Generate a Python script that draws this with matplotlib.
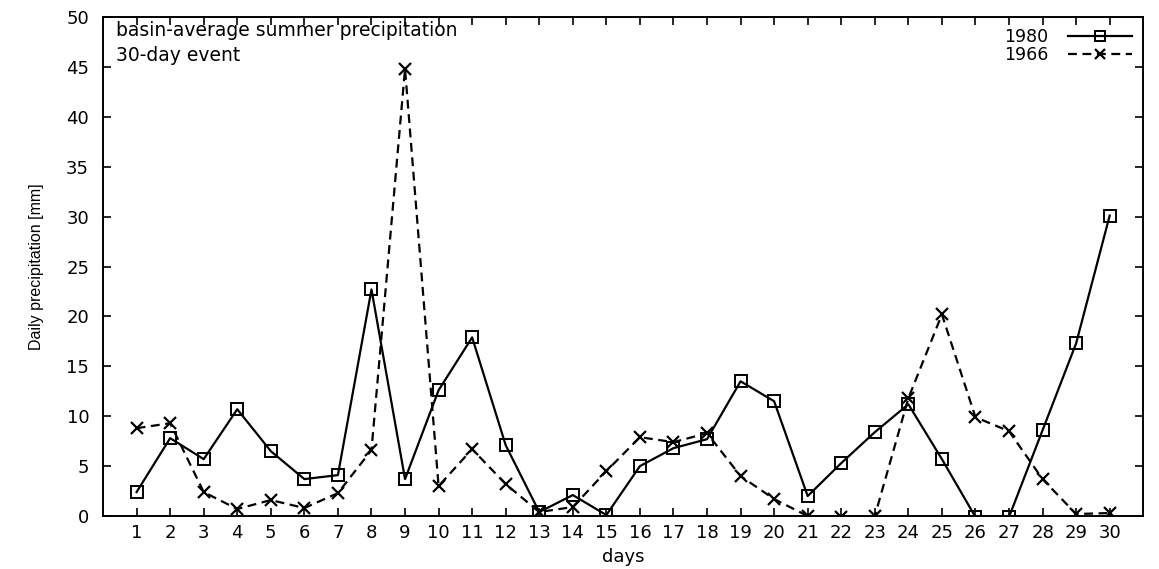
import numpy as np
import matplotlib.pyplot as plt

plt.rcParams['font.family'] = ['DejaVu Sans']

# Daily basin-average precipitation for the two 30-day events
days = np.arange(1, 31)
precip_1980 = [2.4, 7.8, 5.7, 10.7, 6.5, 3.7, 4.1, 22.7, 3.7, 12.6,
               17.9, 7.1, 0.4, 2.1, 0.1, 5.0, 6.8, 7.7, 13.5, 11.5,
               2.0, 5.3, 8.4, 11.2, 5.7, -0.1, -0.1, 8.6, 17.3, 30.1]
precip_1966 = [8.8, 9.3, 2.4, 0.7, 1.6, 0.8, 2.3, 6.6, 44.8, 3.0,
               6.7, 3.2, 0.4, 0.9, 4.5, 7.9, 7.4, 8.3, 4.0, 1.7,
               0.0, -0.1, 0.0, 11.8, 20.2, 9.9, 8.5, 3.7, 0.2, 0.3]

fig = plt.figure(figsize=(11.59, 5.69), dpi=100)
ax = fig.add_axes([0.0889, 0.0931, 0.8975, 0.877])

ax.plot(days, precip_1980, color='black', linestyle='-', linewidth=1.6,
        marker='s', markersize=9, markerfacecolor='none', markeredgewidth=1.4,
        label='1980')
ax.plot(days, precip_1966, color='black', linestyle=(0, (4, 2.5)), linewidth=1.6,
        marker='x', markersize=8, markeredgewidth=1.6, label='1966')

ax.set_xlim(0, 31)
ax.set_ylim(0, 50)
ax.set_xticks(days)
ax.set_yticks(np.arange(0, 51, 5))
ax.tick_params(direction='in', top=True, right=True, length=6, width=1.2,
               labelsize=13)
ax.tick_params(axis='x', pad=6)
ax.tick_params(axis='y', pad=10)
for spine in ax.spines.values():
    spine.set_linewidth(1.4)

ax.set_xlabel('days', fontsize=13, labelpad=4)
ax.set_ylabel('Daily precipitation [mm]', fontsize=11.5, labelpad=16,
              family='Liberation Sans')

ax.text(0.012, 0.993, 'basin-average summer precipitation', transform=ax.transAxes,
        fontsize=13.5, va='top', ha='left')
ax.text(0.012, 0.942, '30-day event', transform=ax.transAxes,
        fontsize=13.5, va='top', ha='left')

leg = ax.legend(loc='upper right', frameon=False, markerfirst=False, fontsize=12.5,
                handlelength=3.7, handletextpad=1.1, labelspacing=0.0,
                borderaxespad=0.35, borderpad=0.3)
for h in leg.legend_handles:
    h.set_markersize(7)

fig.savefig('out.png', dpi=100)
